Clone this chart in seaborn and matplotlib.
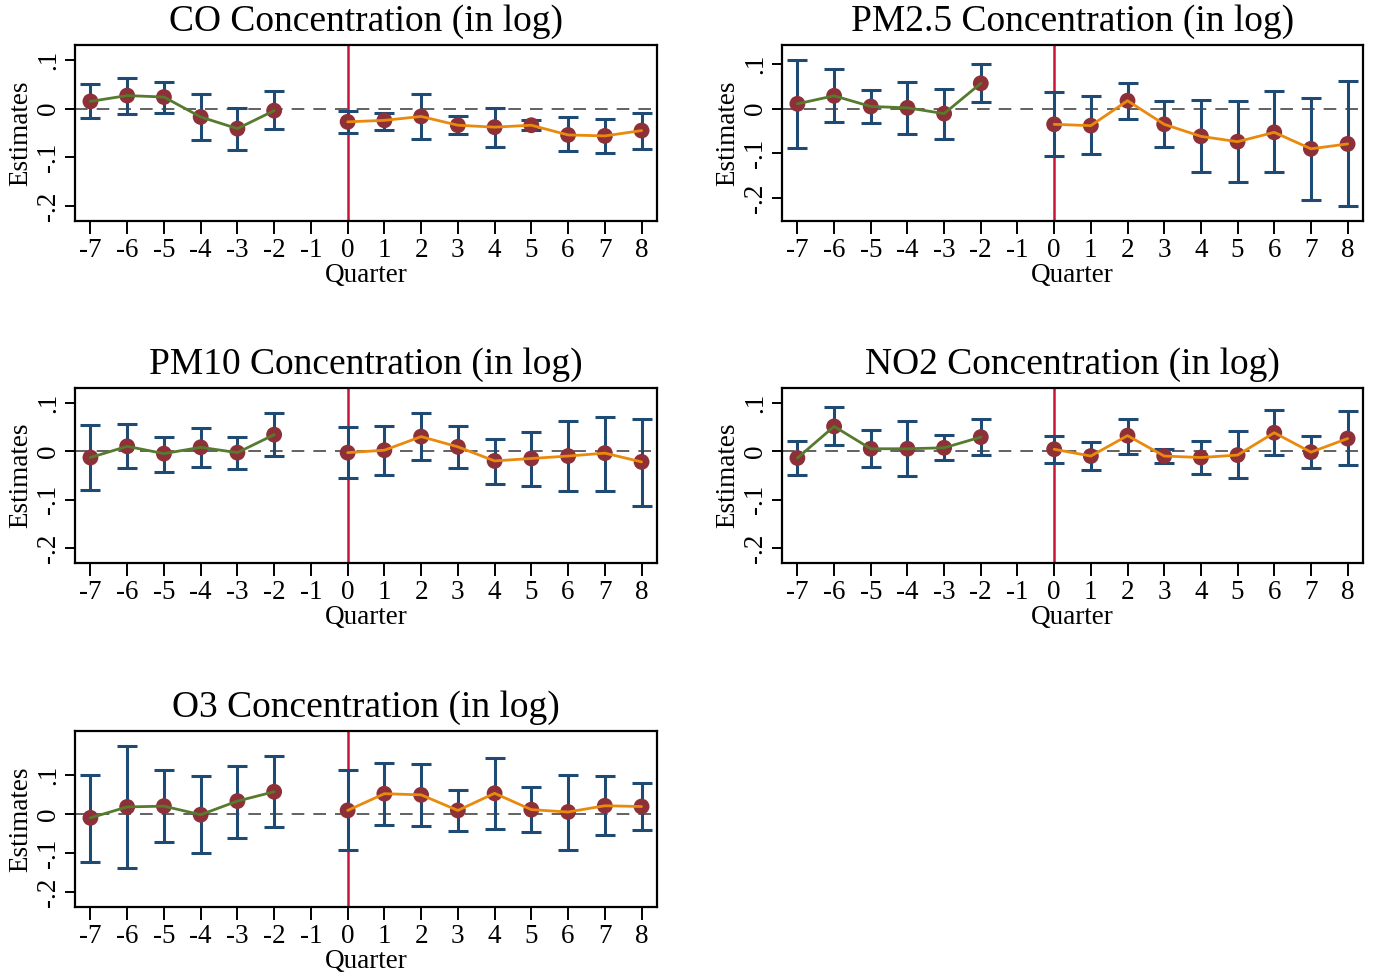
import numpy as np
import pandas as pd
import matplotlib
matplotlib.use("Agg")
import matplotlib.pyplot as plt
import seaborn as sns

# ---------------- data ----------------
quarters = [-7, -6, -5, -4, -3, -2, 0, 1, 2, 3, 4, 5, 6, 7, 8]
xticks = list(range(-7, 9))
ytick_vals = [-0.2, -0.1, 0.0, 0.1]
ytick_labels = ["-.2", "-.1", "0", ".1"]

titles = ["CO Concentration (in log)", "PM2.5 Concentration (in log)",
          "PM10 Concentration (in log)", "NO2 Concentration (in log)",
          "O3 Concentration (in log)"]

co_est = [0.015, 0.027, 0.024, -0.017, -0.041, -0.004,
          -0.027, -0.024, -0.016, -0.034, -0.038, -0.034, -0.054, -0.056, -0.045]
co_lo = [-0.019, -0.010, -0.008, -0.065, -0.085, -0.042,
         -0.050, -0.043, -0.062, -0.052, -0.078, -0.043, -0.088, -0.092, -0.083]
co_hi = [0.051, 0.063, 0.055, 0.030, 0.001, 0.036,
         -0.004, -0.008, 0.030, -0.015, 0.002, -0.024, -0.018, -0.021, -0.009]

pm25_est = [0.011, 0.029, 0.005, 0.002, -0.011, 0.057,
            -0.035, -0.038, 0.018, -0.035, -0.062, -0.074, -0.053, -0.090, -0.079]
pm25_lo = [-0.089, -0.029, -0.032, -0.056, -0.067, 0.014,
           -0.106, -0.102, -0.023, -0.085, -0.143, -0.164, -0.143, -0.204, -0.219]
pm25_hi = [0.109, 0.089, 0.043, 0.059, 0.045, 0.101,
           0.038, 0.028, 0.057, 0.018, 0.019, 0.017, 0.039, 0.025, 0.062]

pm10_est = [-0.013, 0.010, -0.005, 0.008, -0.003, 0.034,
            -0.003, 0.002, 0.030, 0.009, -0.020, -0.015, -0.010, -0.004, -0.022]
pm10_lo = [-0.080, -0.035, -0.043, -0.032, -0.037, -0.009,
           -0.056, -0.048, -0.018, -0.034, -0.067, -0.071, -0.082, -0.081, -0.113]
pm10_hi = [0.053, 0.056, 0.029, 0.048, 0.030, 0.078,
           0.049, 0.052, 0.078, 0.051, 0.026, 0.040, 0.063, 0.071, 0.067]

no2_est = [-0.014, 0.051, 0.005, 0.005, 0.007, 0.029,
           0.004, -0.010, 0.032, -0.010, -0.013, -0.008, 0.038, -0.002, 0.026]
no2_lo = [-0.048, 0.012, -0.032, -0.050, -0.019, -0.008,
          -0.025, -0.038, -0.005, -0.025, -0.047, -0.055, -0.007, -0.035, -0.029]
no2_hi = [0.020, 0.090, 0.043, 0.062, 0.033, 0.066,
          0.032, 0.019, 0.067, 0.005, 0.022, 0.042, 0.084, 0.032, 0.082]

o3_est = [-0.010, 0.018, 0.020, -0.002, 0.033, 0.057,
          0.009, 0.052, 0.049, 0.009, 0.053, 0.011, 0.005, 0.021, 0.019]
o3_lo = [-0.124, -0.138, -0.071, -0.100, -0.061, -0.034,
         -0.092, -0.028, -0.030, -0.043, -0.038, -0.046, -0.092, -0.055, -0.041]
o3_hi = [0.101, 0.174, 0.112, 0.098, 0.124, 0.148,
         0.112, 0.132, 0.129, 0.061, 0.143, 0.068, 0.100, 0.098, 0.079]

series = [(co_est, co_lo, co_hi), (pm25_est, pm25_lo, pm25_hi),
          (pm10_est, pm10_lo, pm10_hi), (no2_est, no2_lo, no2_hi),
          (o3_est, o3_lo, o3_hi)]
ylims = [(-0.231, 0.131), (-0.252, 0.143), (-0.230, 0.130),
         (-0.230, 0.130), (-0.239, 0.213)]

# ---------------- style ----------------
sns.set_theme(style="ticks")
plt.rcParams['font.family'] = ['Liberation Serif', 'DejaVu Serif']
plt.rcParams['axes.linewidth'] = 1.6
plt.rcParams['text.color'] = 'black'
plt.rcParams['axes.labelcolor'] = 'black'
plt.rcParams['axes.titlecolor'] = 'black'

C_BAR = "#1f4a74"
C_MARK = "#8e3038"
C_PRE = "#567a2e"
C_POST = "#ea8a0c"
C_RED = "#cc1236"

fig = plt.figure(figsize=(13.8, 9.77), dpi=100)
W, H = 1380, 977
boxes = [(75, 45, 657, 221), (782, 45, 1363, 221),
         (75, 388, 657, 563), (782, 388, 1363, 563),
         (75, 731, 657, 907)]

for i, (title, (est, lo, hi), yl, b) in enumerate(zip(titles, series, ylims, boxes)):
    x0, y0, x1, y1 = b
    ax = fig.add_axes([x0 / W, 1 - y1 / H, (x1 - x0) / W, (y1 - y0) / H])
    df = pd.DataFrame({"q": quarters, "est": est, "lo": lo, "hi": hi})
    df["period"] = np.where(df["q"] < 0, "pre", "post")

    ax.axhline(0, color="#555555", lw=1.3, ls=(0, (7, 5)), zorder=1)
    ax.axvline(0, color=C_RED, lw=1.8, zorder=1.5)
    ax.errorbar(df["q"], df["est"],
                yerr=[df["est"] - df["lo"], df["hi"] - df["est"]],
                fmt="none", ecolor=C_BAR, elinewidth=2.2, capsize=7,
                capthick=2.2, zorder=2)
    sns.scatterplot(data=df, x="q", y="est", ax=ax, color=C_MARK, s=130,
                    edgecolor="none", zorder=3, legend=False)
    sns.lineplot(data=df[df["period"] == "pre"], x="q", y="est", ax=ax,
                 color=C_PRE, lw=2.0, zorder=4, legend=False)
    sns.lineplot(data=df[df["period"] == "post"], x="q", y="est", ax=ax,
                 color=C_POST, lw=2.0, zorder=4, legend=False)

    ax.set_xlim(-7.42, 8.42)
    ax.set_ylim(*yl)
    ax.set_xticks(xticks)
    ax.set_xticklabels([str(v) for v in xticks], fontsize=19.5)
    ax.set_yticks(ytick_vals)
    ax.set_yticklabels(ytick_labels, fontsize=19.5, rotation=90, va="center")
    ax.tick_params(axis="x", length=9, width=1.4, pad=3, colors="black")
    ax.tick_params(axis="y", length=7, width=1.4, pad=3, colors="black")
    ax.set_xlabel("Quarter", fontsize=19.5, labelpad=0)
    ax.set_ylabel("Estimates", fontsize=19.5, labelpad=2)
    ax.set_title(title, fontsize=27, pad=10)
    for s in ax.spines.values():
        s.set_color("black")
        s.set_visible(True)

fig.savefig("out.png", dpi=100, facecolor="white")
